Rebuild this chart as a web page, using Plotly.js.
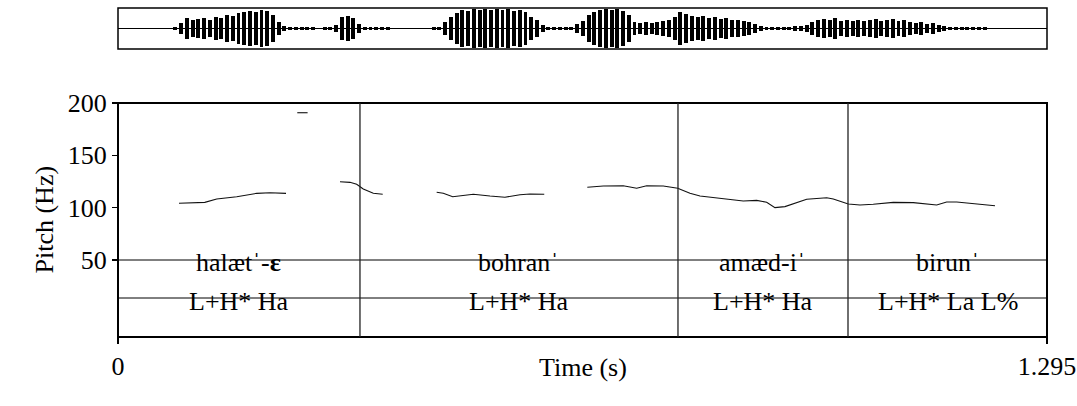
<!DOCTYPE html>
<html>
<head>
<meta charset="utf-8">
<script src="https://cdn.plot.ly/plotly-3.0.1.min.js"></script>
<style>
html,body{margin:0;padding:0;background:#fff;}
#chart{width:1077px;height:406px;}
#chart svg text{fill:#000 !important;}
</style>
</head>
<body>
<div id="chart"></div>
<script>
// ---- Data ----
// Time axis (s)
const timeRange = [0, 1.295];
const timeTickVals = [0, 1.295];
const timeTickText = ['0', '1.295'];

// Pitch axis (Hz)
const pitchRange = [50, 200];
const pitchTickVals = [50, 100, 150, 200];

// Pitch contour segments (time s, Hz)
const pitchT1 = [0.085, 0.121, 0.1376, 0.1655, 0.1933, 0.2119, 0.2342];
const pitchF1 = [104.2, 105.1, 108.3, 110.5, 113.7, 114.3, 113.7];
const pitchT2 = [0.2499, 0.2643];
const pitchF2 = [190.7, 190.7];
const pitchT3 = [0.3094, 0.3234, 0.3327, 0.3419, 0.3559, 0.3690];
const pitchF3 = [124.8, 124.2, 122.3, 117.8, 113.7, 112.8];
const pitchT4 = [0.4442, 0.4534, 0.4666, 0.4953, 0.5185, 0.5394, 0.5604, 0.5743, 0.5942];
const pitchF4 = [114.7, 113.7, 110.5, 112.8, 111.1, 109.9, 112.4, 113.1, 112.8];
const pitchT5 = [0.6542, 0.6765, 0.7043, 0.7230, 0.7370, 0.7601, 0.7802, 0.7973, 0.8113, 0.8252,
                 0.8485, 0.8716, 0.8903, 0.9042, 0.9158, 0.9297, 0.9600, 0.9879, 0.9971, 1.0180,
                 1.0343, 1.0528, 1.0807, 1.1086, 1.1412, 1.1551, 1.1691, 1.2016, 1.2225];
const pitchF5 = [119.5, 120.7, 121.0, 118.5, 121.0, 120.7, 118.5, 113.7, 111.1, 109.9,
                 108.0, 106.4, 107.0, 105.1, 100.0, 101.0, 108.0, 109.5, 108.3, 103.5,
                 102.6, 103.2, 105.1, 104.8, 102.6, 105.4, 105.4, 103.2, 101.9];

// TextGrid tiers
const tierBounds = [0, 0.3373, 0.7806, 1.0176, 1.295];
const wordLabels = ['halætˈ-<b>ɛ</b>', 'bohranˈ', 'amæd-iˈ', 'birunˈ'];
const toneLabels = ['L+H* Ha', 'L+H* Ha', 'L+H* Ha', 'L+H* La L%'];

// Waveform peak amplitude envelope (relative), sampled every 0.008 s from t = 0
const waveStart = 0;
const waveStep = 0.008;
const waveAmp = [
  0, 0, 0, 0, 0, 0, 0, 0, 0, 0.04, 0.06,
  0.3, 0.55, 0.45, 0.5, 0.55, 0.45, 0.6, 0.55, 0.7, 0.65, 0.8, 0.85, 0.9, 0.85, 0.95, 0.9, 0.7, 0.35,
  0.12, 0.1, 0.08, 0.1, 0.06, 0.08, 0.05, 0.06, 0.08,
  0.2, 0.6, 0.65, 0.55, 0.25,
  0.1, 0.08, 0.08, 0.06, 0.07, 0.05, 0.05, 0.04, 0.05, 0.04, 0.05, 0.05, 0.06, 0.1,
  0.35, 0.6, 0.8, 0.95, 0.9, 1.0, 0.95, 1.0, 0.95, 1.0, 0.95, 1.0, 0.9, 0.95, 0.85, 0.6, 0.45, 0.2,
  0.1, 0.08, 0.06, 0.08, 0.1, 0.25,
  0.4, 0.7, 0.85, 0.95, 1.0, 0.95, 1.0, 0.9, 0.7,
  0.35, 0.3, 0.35, 0.3, 0.35, 0.4, 0.45, 0.6,
  0.85, 0.75, 0.65, 0.6, 0.65, 0.55, 0.6, 0.5, 0.55, 0.45, 0.45, 0.4, 0.35, 0.25, 0.15,
  0.1, 0.08, 0.1, 0.08, 0.1, 0.12, 0.15, 0.2,
  0.35, 0.45, 0.5, 0.45, 0.55, 0.4, 0.45, 0.4, 0.45, 0.4, 0.45, 0.5, 0.4, 0.45, 0.5, 0.4, 0.45, 0.35,
  0.3, 0.35, 0.25, 0.3, 0.2, 0.15,
  0.1, 0.08, 0.08, 0.1, 0.08, 0.06, 0.08, 0.05, 0.05, 0.04, 0.03, 0.02,
  0, 0, 0, 0, 0
];

// ---- Layout geometry (paper fractions of a 1077x406 page) ----
const W = 1077, H = 406;
const px = v => v / W;
const py = v => 1 - v / H;
const xDom = [px(118), px(1047)];
const pitchDom = [py(260), py(103)];
const waveDom = [py(49), py(8)];
const panelBottom = py(337);
const tierLine1 = py(260);
const tierLine2 = py(298);
const wordY = py(279);
const toneY = py(318);

const tfont = {family: 'Times New Roman', size: 26};

const segs = [[pitchT1, pitchF1], [pitchT2, pitchF2], [pitchT3, pitchF3], [pitchT4, pitchF4], [pitchT5, pitchF5]];
const traces = segs.map(s => ({
  type: 'scatter', mode: 'lines', x: s[0], y: s[1],
  xaxis: 'x', yaxis: 'y', line: {color: '#111', width: 1.1}, hoverinfo: 'skip', showlegend: false
}));

traces.push({
  type: 'bar', x0: waveStart, dx: waveStep,
  y: waveAmp.map(a => 2 * a), base: waveAmp.map(a => -a),
  width: 0.0055, xaxis: 'x2', yaxis: 'y2',
  marker: {color: '#000', line: {width: 0}}, hoverinfo: 'skip', showlegend: false
});

const shapes = [];
shapes.push({type: 'rect', xref: 'paper', yref: 'paper', x0: xDom[0], x1: xDom[1], y0: waveDom[0], y1: waveDom[1], line: {color: '#000', width: 1.5}});
shapes.push({type: 'rect', xref: 'paper', yref: 'paper', x0: xDom[0], x1: xDom[1], y0: panelBottom, y1: pitchDom[1], line: {color: '#000', width: 2}});
[tierLine1, tierLine2].forEach(y => shapes.push({type: 'line', xref: 'paper', yref: 'paper', x0: xDom[0], x1: xDom[1], y0: y, y1: y, line: {color: '#000', width: 1}}));
tierBounds.slice(1, -1).forEach(b => shapes.push({type: 'line', xref: 'x', yref: 'paper', x0: b, x1: b, y0: panelBottom, y1: pitchDom[1], line: {color: '#222', width: 1.3}}));

const annotations = [];
for (let i = 0; i < wordLabels.length; i++) {
  const mid = (tierBounds[i] + tierBounds[i + 1]) / 2;
  annotations.push({x: mid, xref: 'x', y: wordY, yref: 'paper', text: wordLabels[i], showarrow: false, font: tfont});
  annotations.push({x: mid, xref: 'x', y: toneY, yref: 'paper', text: toneLabels[i], showarrow: false, font: tfont});
}
annotations.push({x: px(27), xref: 'paper', y: py(220), yref: 'paper', text: 'Pitch (Hz)', textangle: -90, showarrow: false, font: tfont});
annotations.push({x: (xDom[0] + xDom[1]) / 2, xref: 'paper', y: py(384), yref: 'paper', text: 'Time (s)', showarrow: false, font: tfont});

const layout = {
  width: W, height: H,
  margin: {l: 0, r: 0, t: 0, b: 0},
  showlegend: false,
  bargap: 0,
  xaxis: {
    domain: xDom, range: timeRange, anchor: 'free', position: panelBottom,
    tickvals: timeTickVals, ticktext: timeTickText, ticks: 'outside', ticklen: 6, tickwidth: 1.5, tickcolor: '#000',
    showline: true, linewidth: 2, linecolor: '#000', showgrid: false, zeroline: false,
    tickfont: tfont
  },
  yaxis: {
    domain: pitchDom, range: pitchRange, anchor: 'free', position: xDom[0],
    tickvals: pitchTickVals, ticks: 'outside', ticklen: 6, tickwidth: 1.5, tickcolor: '#000',
    showline: false, showgrid: false, zeroline: false,
    tickfont: tfont
  },
  xaxis2: {domain: xDom, range: timeRange, anchor: 'y2', visible: false},
  yaxis2: {
    domain: waveDom, range: [-1.05, 1.05], anchor: 'x2',
    showticklabels: false, ticks: '', showgrid: false, showline: false,
    zeroline: true, zerolinecolor: '#000', zerolinewidth: 1
  },
  shapes: shapes,
  annotations: annotations
};

Plotly.newPlot('chart', traces, layout, {staticPlot: true});
</script>
</body>
</html>
